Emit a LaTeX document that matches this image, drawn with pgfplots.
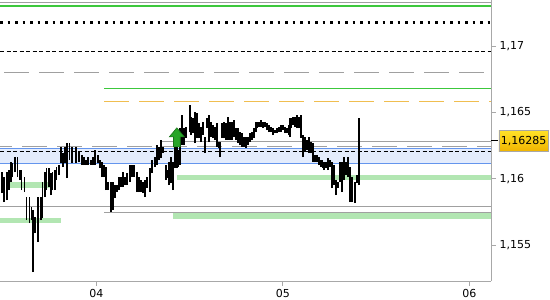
\documentclass[border=0pt]{standalone}
\usepackage{pgfplots}
\pgfplotsset{compat=1.18}
\usepackage{pgfplotstable}
\usepackage{fontspec}
\setmainfont{DejaVu Sans}
\definecolor{axgray}{RGB}{168,168,168}
\definecolor{lngray}{RGB}{160,160,160}
\definecolor{lngreen}{RGB}{60,200,60}
\definecolor{lnorange}{RGB}{240,190,80}
\definecolor{lnblue}{RGB}{100,149,237}
\definecolor{bandblue}{RGB}{228,236,252}
\definecolor{ltgreen}{RGB}{178,230,178}
\definecolor{arrgreen}{RGB}{40,165,40}
\definecolor{arrdark}{RGB}{25,115,25}
\definecolor{goldtop}{RGB}{255,226,40}
\definecolor{goldbot}{RGB}{240,180,0}
\pgfdeclareplotmark{uparr}{%
  \pgfpathmoveto{\pgfpoint{0bp}{9.5bp}}%
  \pgfpathlineto{\pgfpoint{7.5bp}{0.5bp}}%
  \pgfpathlineto{\pgfpoint{3.4bp}{0.5bp}}%
  \pgfpathlineto{\pgfpoint{3.4bp}{-9.5bp}}%
  \pgfpathlineto{\pgfpoint{-3.4bp}{-9.5bp}}%
  \pgfpathlineto{\pgfpoint{-3.4bp}{0.5bp}}%
  \pgfpathlineto{\pgfpoint{-7.5bp}{0.5bp}}%
  \pgfpathclose
  \pgfusepathqfillstroke}
\pgfplotstableread{
x lo hi
-48.7 1.15892 1.16050
-47.6 1.15824 1.16012
-46.1 1.15839 1.16050
-45.1 1.15914 1.16065
-44.0 1.15975 1.16125
-43.3 1.16012 1.16118
-42.0 1.16050 1.16163
-40.7 1.16012 1.16163
-39.4 1.15990 1.16065
-38.6 1.15914 1.16065
-37.1 1.15899 1.16012
-36.1 1.15688 1.15861
-34.5 1.15665 1.15861
-33.5 1.15688 1.15786
-32.7 1.15296 1.15763
-31.7 1.15590 1.15711
-30.1 1.15522 1.15861
-28.6 1.15688 1.15861
-27.8 1.15703 1.15975
-26.5 1.15861 1.16050
-25.8 1.15914 1.16080
-24.5 1.15937 1.16080
-23.4 1.15877 1.16042
-22.7 1.15914 1.16050
-21.4 1.15914 1.16065
-20.6 1.15990 1.16088
-19.3 1.16027 1.16103
-18.3 1.16118 1.16239
-17.3 1.16088 1.16193
-16.2 1.16118 1.16239
-15.2 1.16005 1.16269
-13.9 1.16140 1.16269
-12.6 1.16118 1.16239
-10.6 1.16118 1.16239
-9.0 1.16125 1.16201
-7.5 1.16103 1.16178
-6.4 1.16103 1.16163
-5.4 1.16103 1.16140
-4.4 1.16103 1.16163
-2.8 1.16103 1.16140
-1.8 1.16103 1.16163
-0.8 1.16103 1.16216
0.8 1.16118 1.16178
1.8 1.16080 1.16140
2.8 1.16012 1.16125
3.9 1.16012 1.16103
4.9 1.15914 1.16088
5.9 1.15914 1.15975
7.5 1.15748 1.15975
8.5 1.15763 1.15975
9.5 1.15854 1.15952
10.6 1.15899 1.15952
11.6 1.15914 1.16012
12.6 1.15937 1.16012
13.6 1.15937 1.16050
14.7 1.15952 1.16012
15.7 1.15952 1.16042
17.3 1.15975 1.16103
18.3 1.16012 1.16103
19.3 1.16012 1.16103
20.9 1.15899 1.16050
21.9 1.15899 1.16012
22.9 1.15899 1.15990
23.9 1.15892 1.15975
25.0 1.15861 1.15990
26.0 1.15929 1.16012
27.6 1.15899 1.16080
28.6 1.16042 1.16140
30.1 1.16088 1.16163
31.2 1.16103 1.16254
32.2 1.16140 1.16239
33.2 1.16156 1.16291
34.2 1.16193 1.16239
35.8 1.15990 1.16103
36.8 1.16005 1.16065
37.3 1.15952 1.16125
38.3 1.15967 1.16163
39.4 1.15914 1.16125
40.4 1.16080 1.16276
41.5 1.16080 1.16239
42.0 1.16088 1.16216
43.0 1.16103 1.16382
44.0 1.16254 1.16480
45.1 1.16254 1.16382
46.1 1.16306 1.16389
48.2 1.16352 1.16555
48.7 1.16329 1.16465
49.7 1.16344 1.16457
50.7 1.16269 1.16502
51.8 1.16306 1.16495
52.8 1.16306 1.16420
53.8 1.16276 1.16389
54.8 1.16329 1.16427
55.9 1.16193 1.16314
56.9 1.16382 1.16457
57.9 1.16276 1.16480
59.0 1.16314 1.16427
60.0 1.16306 1.16404
61.0 1.16291 1.16389
62.1 1.16239 1.16420
63.1 1.16231 1.16276
63.6 1.16163 1.16276
64.6 1.16306 1.16420
65.7 1.16306 1.16427
66.7 1.16291 1.16420
67.7 1.16291 1.16465
68.8 1.16291 1.16427
69.8 1.16291 1.16427
70.8 1.16314 1.16442
71.8 1.16291 1.16382
72.9 1.16269 1.16382
73.9 1.16254 1.16352
74.9 1.16239 1.16344
76.0 1.16239 1.16314
77.0 1.16231 1.16314
78.0 1.16254 1.16314
79.1 1.16276 1.16344
80.1 1.16291 1.16352
81.1 1.16306 1.16382
82.1 1.16352 1.16427
82.7 1.16382 1.16427
83.7 1.16389 1.16427
84.7 1.16389 1.16442
85.7 1.16382 1.16427
86.8 1.16389 1.16427
87.8 1.16367 1.16420
88.8 1.16352 1.16404
89.9 1.16352 1.16389
90.9 1.16329 1.16382
91.9 1.16344 1.16367
93.0 1.16344 1.16382
94.0 1.16352 1.16389
95.0 1.16352 1.16404
96.0 1.16367 1.16404
97.1 1.16344 1.16389
98.1 1.16344 1.16382
98.9 1.16329 1.16404
99.7 1.16314 1.16457
100.4 1.16382 1.16457
101.2 1.16404 1.16465
102.2 1.16389 1.16465
103.3 1.16382 1.16480
104.3 1.16382 1.16465
105.3 1.16306 1.16480
106.3 1.16163 1.16329
107.4 1.16201 1.16314
108.4 1.16216 1.16291
109.4 1.16193 1.16314
110.5 1.16193 1.16276
111.5 1.16125 1.16269
112.5 1.16125 1.16178
113.5 1.16125 1.16178
114.6 1.16103 1.16163
115.6 1.16088 1.16140
116.4 1.16080 1.16140
117.2 1.16065 1.16125
118.2 1.16080 1.16125
119.3 1.16065 1.16156
120.3 1.16088 1.16140
121.3 1.15929 1.16125
122.3 1.15952 1.16103
123.4 1.15877 1.15990
124.4 1.15929 1.15975
125.4 1.15975 1.16125
126.5 1.15899 1.16125
127.5 1.15990 1.16163
128.5 1.16027 1.16125
129.5 1.16012 1.16163
130.6 1.15824 1.16088
131.6 1.15824 1.16012
133.2 1.15816 1.15975
134.2 1.15967 1.16027
135.2 1.15952 1.16457
}\bars
\begin{document}
\begin{tikzpicture}
\begin{axis}[
  at={(0,0)}, anchor=south west,
  width=491bp, height=281bp, scale only axis,
  xmin=-49.7, xmax=203.2,
  ymin=1.15229, ymax=1.17347,
  axis x line*=bottom, axis y line*=right,
  axis line style={draw=axgray, line width=0.9bp},
  xtick={0,96,192}, xticklabels={04,05,06},
  ytick={1.155,1.16,1.165,1.17},
  yticklabels={{1,155},{1,16},{1,165},{1,17}},
  tick style={draw=axgray, line width=0.9bp},
  major tick length=5bp,
  tick align=outside,
  tick label style={font=\fontsize{11bp}{13bp}\selectfont, text=black},
  yticklabel style={anchor=west},
  extra y ticks={1.16285},
  extra y tick labels={1{,}16285},
  extra y tick style={
    major tick length=7bp,
    tick style={draw=black, line width=1bp},
    yticklabel style={anchor=west, xshift=0.5bp, inner xsep=2bp, inner ysep=0pt,
      minimum height=21bp, top color=goldtop, bottom color=goldbot,
      draw=axgray, line width=0.6bp},
  },
  clip=false,
]
% blue band
\addplot[draw=none, fill=bandblue, forget plot] coordinates {(-49.7,1.16116) (203.2,1.16116) (203.2,1.16229) (-49.7,1.16229)} -- cycle;
\addplot[lnblue, line width=1bp, forget plot] coordinates {(-49.7,1.16229) (203.2,1.16229)};
\addplot[lnblue, line width=1bp, forget plot] coordinates {(-49.7,1.16116) (203.2,1.16116)};
% light green zones
\addplot[ltgreen, line width=5.5bp, forget plot] coordinates {(41.5,1.16010) (203.2,1.16010)};
\addplot[ltgreen, line width=5.5bp, forget plot] coordinates {(-44.5,1.15954) (-23.9,1.15954)};
\addplot[ltgreen, line width=5.5bp, forget plot] coordinates {(39.4,1.15718) (203.2,1.15718)};
\addplot[ltgreen, line width=5.5bp, forget plot] coordinates {(-49.7,1.15684) (-18.3,1.15684)};
% horizontal lines
\addplot[lngray, line width=1bp, forget plot] coordinates {(-49.7,1.17330) (203.2,1.17330)};
\addplot[lngreen, line width=1.2bp, forget plot] coordinates {(-49.7,1.17302) (203.2,1.17302)};
\addplot[black, line width=2.4bp, dash pattern=on 2.5bp off 5bp, forget plot] coordinates {(-49.7,1.17176) (203.2,1.17176)};
\addplot[black, line width=1.2bp, dash pattern=on 4bp off 2.5bp, forget plot] coordinates {(-49.7,1.16960) (203.2,1.16960)};
\addplot[lngray, line width=1bp, dash pattern=on 25bp off 10bp, dash phase=31bp, forget plot] coordinates {(-49.7,1.16804) (203.2,1.16804)};
\addplot[lngreen, line width=1.2bp, forget plot] coordinates {(3.9,1.16681) (203.2,1.16681)};
\addplot[lnorange, line width=1bp, dash pattern=on 25bp off 10bp, forget plot] coordinates {(3.9,1.16585) (203.2,1.16585)};
\addplot[lngray, line width=1bp, forget plot] coordinates {(33.7,1.16284) (203.2,1.16284)};
\addplot[lngray, line width=1bp, dash pattern=on 25bp off 10bp, dash phase=13bp, forget plot] coordinates {(-49.7,1.16244) (203.2,1.16244)};
\addplot[black, line width=1bp, dash pattern=on 4bp off 2.5bp, forget plot] coordinates {(-49.7,1.16206) (203.2,1.16206)};
\addplot[lngray, line width=1bp, forget plot] coordinates {(-49.7,1.15794) (203.2,1.15794)};
\addplot[lngray, line width=1bp, forget plot] coordinates {(3.9,1.15746) (203.2,1.15746)};
% price bars (low to high)
\addplot[draw=none, mark=none, forget plot,
  error bars/.cd, y dir=plus, y explicit, error mark=none,
  error bar style={line width=1.7bp, draw=black, solid}]
  table[x=x, y=lo, y error expr=\thisrow{hi}-\thisrow{lo}] {\bars};
% signal arrow
\addplot[only marks, mark=uparr, mark options={fill=arrgreen, draw=arrdark, line width=0.6bp}, forget plot] coordinates {(41.4,1.16312)};
\end{axis}
\pgfresetboundingbox
\path[use as bounding box] (0,-19bp) rectangle (550bp,281bp);
\end{tikzpicture}
\end{document}
